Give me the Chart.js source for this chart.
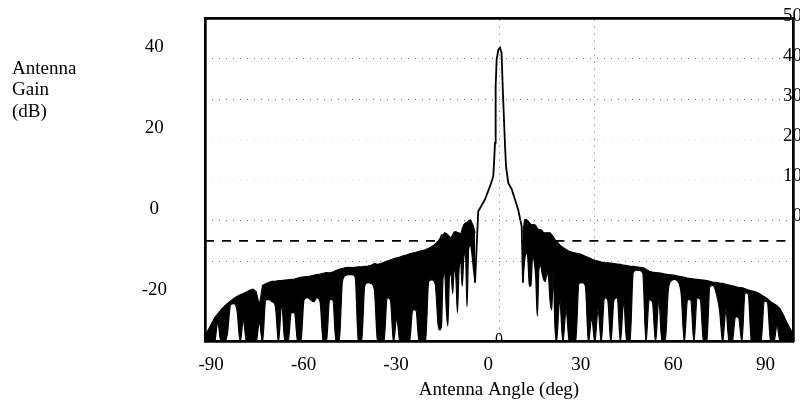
<!DOCTYPE html>
<html><head><meta charset="utf-8">
<script src="https://cdn.jsdelivr.net/npm/chart.js@4.4.1/dist/chart.umd.min.js"></script>
<style>html,body{margin:0;padding:0;background:#fff;}canvas{display:block;}</style>
</head><body>
<canvas id="c" width="800" height="406"></canvas>
<script>
// ---- data ----
// left sidelobe region: upper envelope and lower bound of the dense trace (dB)
const leftAngles = [-92,-91,-90,-89,-88,-87,-86,-85,-84,-83,-82,-81,-80,-79,-78,-77,-76,-75,-74,-73,-72,-71,-70,-69,-68,-67,-66,-65,-64,-63,-62,-61,-60,-59,-58,-57,-56,-55,-54,-53,-52,-51,-50,-49,-48,-47,-46,-45,-44,-43,-42,-41,-40,-39,-38,-37,-36,-35,-34,-33,-32,-31,-30,-29,-28,-27,-26,-25,-24,-23,-22,-21,-20,-19,
  -18.5,-18,-17.5,-17,-16.5,-16,-15.5,-15,-14.5,-14,-13.5,-13,-12.5,-12,-11.5,-11,-10.5,-10,-9.5,-9,-8.5,-8,-7.5];
const leftUpper = [-28.5,-27,-25.5,-24,-23,-22,-21.2,-20.5,-19.8,-19.2,-18.7,-18.3,-18,-17.6,-17.2,-16.9,-17.5,-21,-16,-15.6,-15.2,-15,-15,-14.8,-14.8,-14.7,-14.6,-14.5,-14.4,-14.2,-14,-13.9,-13.8,-13.7,-13.5,-13.3,-13.2,-13,-12.8,-12.9,-12.7,-12.3,-12,-11.8,-11.6,-11.5,-11.6,-11.5,-11.4,-11.4,-11.3,-11.2,-11,-10.6,-10.8,-10.6,-10.3,-10,-9.7,-9.4,-9.2,-9,-8.7,-8.5,-8.2,-8,-7.8,-7.6,-7.4,-7.2,-6.8,-6.4,-5.8,-5,
  -4.5,-3.5,-3.5,-3,-3.2,-3.5,-4,-4.3,-3.5,-2.8,-2.7,-3,-3,-3.5,-2,-1,-0.6,-0.5,0,0.2,-0.5,-1.4,-3];
const leftLower = [-30,-30,-30,-30,-25,-30,-30,-28,-20.8,-20.5,-22,-30,-24.5,-30,-30,-30,-30,-25,-30,-19.5,-19.5,-20,-21,-30,-20.5,-30,-30,-22.7,-22.7,-30,-30,-19.5,-19,-19.5,-20,-19,-20,-30,-30,-19.5,-19.5,-30,-30,-15,-13.5,-13.3,-13.3,-14,-30,-30,-16,-15.3,-15.5,-17,-30,-30,-30,-19,-19.5,-30,-24,-30,-30,-30,-30,-22,-22,-30,-30,-30,-15,-14.6,-15.5,-26,
  -27,-26,-14,-13,-22,-26,-14,-13,-18,-12,-14,-22.7,-12,-10,-16.2,-9,-8,-21.2,-7,-6,-8,-12,-15.3];

// main beam (single resolved trace, dB)
const beamAngles = [-7.5,-6.5,-5.9,-4.4,-2.8,-1.8,-1.5,-1.25,-1.15,-0.94,-0.73,-0.2,0.3,0.8,1.15,1.56,1.9,2.2,2.9,4,5,6,7.1,7.5];
const beamGain = [-15.3,2.3,3.1,5.2,8.5,10.9,15,19.2,24.9,33.2,39.8,42.2,42.7,41.4,33.2,24.9,18.3,13.4,9.3,7.7,5.2,2.7,-1.4,-15.3];

// right sidelobe region
const rightAngles = [7.5,8,8.5,9,9.5,10,10.5,11,11.5,12,12.5,13,13.5,14,14.5,15,15.5,16,16.5,17,17.5,
  18,19,20,21,22,23,24,25,26,27,28,29,30,31,32,33,34,35,36,37,38,39,40,41,42,43,44,45,46,47,48,49,50,51,52,53,54,55,56,57,58,59,60,61,62,63,64,65,66,67,68,69,70,71,72,73,74,75,76,77,78,79,80,81,82,83,84,85,86,87,88,89,90,91,92];
const rightUpper = [-3,0.2,0.3,0,-0.5,-1,-1,-1,-1.2,-2,-2.2,-2.2,-2.5,-3,-3,-3,-3,-3,-3.5,-4,-4.7,
  -5,-6,-6.6,-7.1,-7.6,-7.8,-8,-8.1,-8.4,-8.8,-9.1,-9.5,-9.8,-10,-10.2,-10.4,-10.4,-10.5,-10.6,-10.7,-10.8,-11,-11.1,-11.3,-11.3,-11.4,-11.5,-11.6,-12,-12.5,-12.7,-12.8,-12.9,-13,-13.2,-13.3,-13.4,-13.5,-13.7,-13.8,-14,-14.2,-14.3,-14.4,-14.5,-14.6,-14.7,-14.8,-15,-15.2,-15.2,-15.4,-15.5,-15.7,-15.9,-16.1,-16.3,-16.5,-16.5,-16.8,-17.1,-17.3,-17.5,-17.8,-18.3,-18.8,-19.3,-20,-20.5,-21,-21.8,-23.3,-25,-26.5,-28];
const rightLower = [-15.3,-10,-8,-9,-16.2,-16,-9,-10,-14,-23.6,-12,-11,-13,-14.6,-15,-13,-14,-20,-22,-13,-26,
  -30,-19.5,-30,-22,-30,-30,-30,-15.5,-15.3,-16,-30,-24,-30,-22,-30,-19,-19.5,-30,-19.5,-19,-30,-20,-30,-30,-12.8,-12.2,-12.3,-13,-30,-19.5,-20,-30,-19.5,-30,-30,-17,-14.8,-14.5,-15,-18,-30,-19.5,-19.5,-30,-19,-19.5,-30,-30,-16.2,-16,-18,-22,-30,-22,-30,-30,-23.7,-24,-30,-17.8,-18.2,-30,-30,-30,-30,-19.8,-20.2,-30,-30,-26,-30,-30,-30,-30,-30];

// dashed threshold line
const thresholdAngles = [-92,-7,0,7,92];
const thresholdLevel = [-5,-5,null,-5,-5];

// axes
const xTickLabels = [-90,-60,-30,0,30,60,90];
const leftTickLabels = [40,20,0,-20];
const rightTickLabels = [50,40,30,20,10,0];
const gridDb = [40,30,20,10,0,-10];
const faintGridDb = [20,10];
const gridDeg = [0,30];
const yLabelLines = ['Antenna','Gain','(dB)'];
const boresightMark = '0';

// ---- chart ----
const FONT = "'Liberation Serif','Times New Roman',serif";
Chart.defaults.font.family = FONT;
Chart.defaults.font.size = 19;
Chart.defaults.color = '#000';

const pts = (xs, ys) => xs.map((x, i) => ({x: x, y: ys[i]}));
const line = (data, extra) => Object.assign({
  data: data, borderColor: '#000', borderWidth: 1.2, pointRadius: 0,
  tension: 0, fill: false, backgroundColor: '#000', spanGaps: false
}, extra || {});

const sideText = {
  id: 'sideText',
  afterDatasetsDraw(chart) {
    const ctx = chart.ctx, a = chart.chartArea;
    const x = chart.scales.x;
    ctx.save();
    ctx.beginPath(); ctx.rect(a.left, a.top, a.right - a.left, a.bottom - a.top); ctx.clip();
    ctx.font = '16px ' + FONT; ctx.fillStyle = '#000';
    ctx.textAlign = 'center'; ctx.textBaseline = 'alphabetic';
    ctx.fillText(boresightMark, x.getPixelForValue(0), a.bottom + 3);
    ctx.restore();
  },
  afterDraw(chart) {
    const ctx = chart.ctx;
    ctx.save();
    ctx.font = '19px ' + FONT; ctx.fillStyle = '#000';
    ctx.textAlign = 'left'; ctx.textBaseline = 'alphabetic';
    const base = [74, 95, 117];
    yLabelLines.forEach((t, i) => ctx.fillText(t, 12, base[i]));
    ctx.restore();
  }
};

new Chart(document.getElementById('c'), {
  type: 'line',
  data: {
    datasets: [
      line(pts(leftAngles, leftUpper)),
      line(pts(leftAngles, leftLower), {fill: '-1', cubicInterpolationMode: 'monotone'}),
      line(pts(beamAngles, beamGain), {borderWidth: 1.8}),
      line(pts(rightAngles, rightUpper)),
      line(pts(rightAngles, rightLower), {fill: '-1', cubicInterpolationMode: 'monotone'}),
      line(pts(thresholdAngles, thresholdLevel), {borderWidth: 1.6, borderDash: [9, 8], order: 10})
    ]
  },
  options: {
    responsive: false,
    animation: false,
    devicePixelRatio: 1,
    layout: {padding: {top: 18, left: 0, right: 0, bottom: 0}},
    plugins: {legend: {display: false}, tooltip: {enabled: false}},
    scales: {
      x: {
        type: 'linear', position: 'top', min: -92, max: 92,
        afterBuildTicks: s => { s.ticks = gridDeg.map(v => ({value: v})); },
        ticks: {display: false},
        grid: {color: '#777', lineWidth: 1, drawTicks: false},
        border: {display: true, color: '#000', width: 2.7, dash: [1, 6]},
        afterFit: s => { s.height = 0; s.paddingLeft = 0; s.paddingRight = 0; }
      },
      xL: {
        type: 'linear', position: 'bottom', min: -92.0, max: 98.9,
        afterBuildTicks: s => { s.ticks = xTickLabels.map(v => ({value: v})); },
        ticks: {autoSkip: false, maxRotation: 0, padding: 13, color: '#000', font: {size: 19}, callback: v => String(v)},
        grid: {display: false, drawTicks: false},
        border: {display: true, color: '#000', width: 2.7},
        title: {display: true, text: 'Antenna Angle (deg)', color: '#000', font: {size: 19}, padding: {top: 0, bottom: 5}},
        afterFit: s => { s.height = 65; s.paddingLeft = 0; s.paddingRight = 0; }
      },
      y: {
        type: 'linear', position: 'right', min: -29.7, max: 50, weight: 0,
        afterBuildTicks: s => { s.ticks = gridDb.map(v => ({value: v})); },
        ticks: {display: false},
        grid: {color: c => faintGridDb.includes(c.tick && c.tick.value) ? 'rgba(0,0,0,0.12)' : '#777', lineWidth: 1, drawTicks: false},
        border: {display: true, color: '#000', width: 2.7, dash: [1, 6]},
        afterFit: s => { s.width = 0; s.paddingTop = 0; s.paddingBottom = 0; }
      },
      yR: {
        type: 'linear', position: 'right', min: -31.5, max: 49.6, weight: 1,
        afterBuildTicks: s => { s.ticks = rightTickLabels.map(v => ({value: v})); },
        ticks: {mirror: true, padding: 9, crossAlign: 'near', color: '#000', font: {size: 19}, callback: v => String(v)},
        grid: {display: false, drawTicks: false},
        border: {display: false},
        afterFit: s => { s.width = 7; s.paddingTop = 0; s.paddingBottom = 0; }
      },
      yL: {
        type: 'linear', position: 'left', min: -32.6, max: 47.3,
        afterBuildTicks: s => { s.ticks = leftTickLabels.map(v => ({value: v})); },
        ticks: {padding: 38, crossAlign: 'center', color: '#000', font: {size: 19}, callback: v => String(v)},
        grid: {display: false, drawTicks: false},
        border: {display: true, color: '#000', width: 2.7},
        afterFit: s => { s.width = 205; s.paddingTop = 0; s.paddingBottom = 0; }
      }
    }
  },
  plugins: [sideText]
});
</script>
</body></html>
